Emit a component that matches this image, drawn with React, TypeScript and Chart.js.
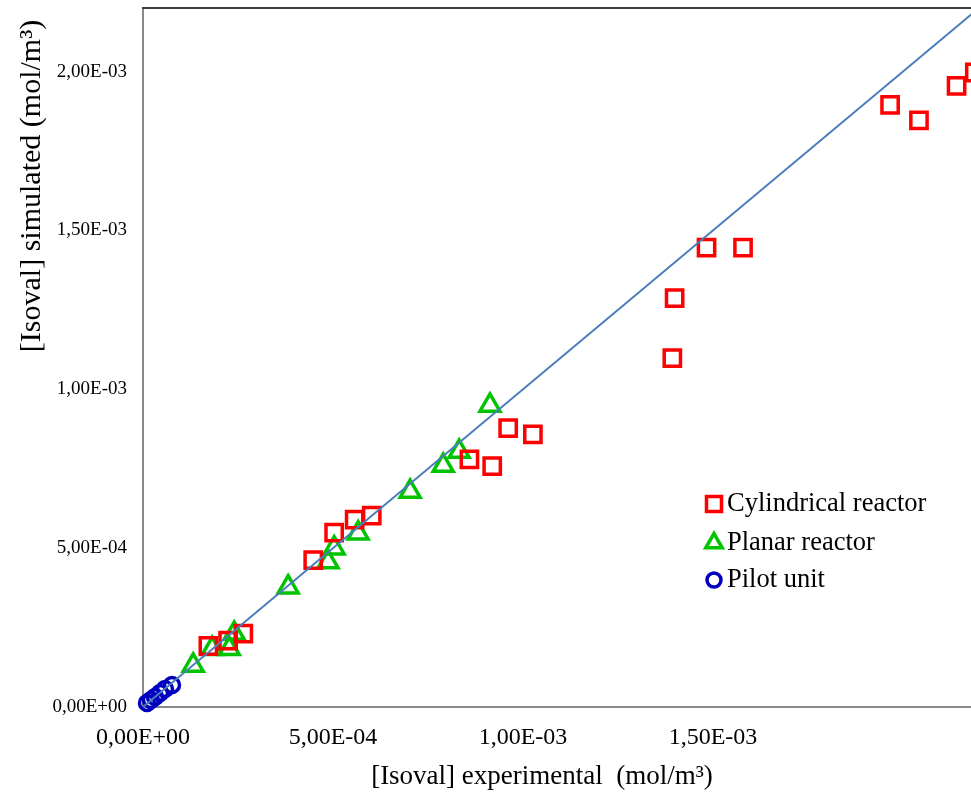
import React, { useEffect, useRef } from 'react';
import { Chart, registerables } from 'chart.js';

Chart.register(...registerables);

// Cylindrical reactor (experimental, simulated) in mol/m3
const cylindricalX = [1.72e-4, 2.24e-4, 2.64e-4, 4.48e-4, 5.03e-4, 5.57e-4, 6.02e-4, 8.59e-4, 9.19e-4, 9.61e-4, 10.26e-4, 13.93e-4, 13.99e-4, 14.83e-4, 15.79e-4, 19.66e-4, 20.42e-4, 21.41e-4, 21.89e-4];
const cylindricalY = [1.92e-4, 2.09e-4, 2.31e-4, 4.62e-4, 5.49e-4, 5.90e-4, 6.02e-4, 7.79e-4, 7.58e-4, 8.78e-4, 8.58e-4, 10.98e-4, 12.87e-4, 14.46e-4, 14.46e-4, 18.95e-4, 18.46e-4, 19.55e-4, 19.97e-4];

// Planar reactor
const planarX = [1.32e-4, 1.82e-4, 2.27e-4, 2.40e-4, 3.82e-4, 4.87e-4, 5.03e-4, 5.66e-4, 7.03e-4, 7.90e-4, 8.32e-4, 9.13e-4];
const planarY = [1.31e-4, 1.83e-4, 1.83e-4, 2.31e-4, 3.77e-4, 4.56e-4, 5.00e-4, 5.47e-4, 6.78e-4, 7.60e-4, 8.04e-4, 9.49e-4];

// Pilot unit
const pilotX = [0.105e-4, 0.21e-4, 0.316e-4, 0.447e-4, 0.579e-4, 0.763e-4];
const pilotY = [0.126e-4, 0.22e-4, 0.314e-4, 0.44e-4, 0.566e-4, 0.692e-4];

// y = x reference line
const identityLine = [0, 2.2e-3];

const seriesNames = ['Cylindrical reactor', 'Planar reactor', 'Pilot unit'];
const seriesColors = ['#FF0000', '#00C400', '#0000C0'];

const axisMin = 0;
const axisMax = 2.2e-3;
const tickStep = 5e-4;

const xTitle = '[Isoval] experimental  (mol/m\u00B3)';
const yTitle = '[Isoval] simulated (mol/m\u00B3)';

const FONT = '"Liberation Serif", "Times New Roman", serif';

function fmt(v: number): string {
  if (Math.abs(v) < 1e-12) return '0,00E+00';
  const [m, e] = v.toExponential(2).split('e');
  const n = parseInt(e, 10);
  const sign = n < 0 ? '-' : '+';
  return m.replace('.', ',') + 'E' + sign + String(Math.abs(n)).padStart(2, '0');
}

function zip(xs: number[], ys: number[]) {
  return xs.map((x, i) => ({ x, y: ys[i] }));
}

function filterTicks(scale: any) {
  scale.ticks = scale.ticks.filter((t: any) => {
    const r = t.value / tickStep;
    return Math.abs(r - Math.round(r)) < 1e-6;
  });
}

const decorPlugin = {
  id: 'decor',
  afterDraw(chart: any) {
    const { ctx, chartArea } = chart;
    ctx.save();
    // top frame line
    ctx.strokeStyle = '#404040';
    ctx.lineWidth = 2;
    ctx.beginPath();
    ctx.moveTo(chartArea.left - 1, chartArea.top);
    ctx.lineTo(chartArea.right + 1, chartArea.top);
    ctx.stroke();

    // axis titles
    ctx.fillStyle = '#000';
    ctx.textAlign = 'center';
    ctx.textBaseline = 'middle';
    ctx.font = '27px ' + FONT;
    ctx.fillText(xTitle, 542, 777);
    ctx.save();
    ctx.font = '30px ' + FONT;
    ctx.translate(32, 186);
    ctx.rotate(-Math.PI / 2);
    ctx.fillText(yTitle, 0, 0);
    ctx.restore();

    // legend
    const lx = 714;
    const rows = [504, 543, 580];
    ctx.lineWidth = 3.5;
    rows.forEach((ry, i) => {
      ctx.strokeStyle = seriesColors[i];
      ctx.beginPath();
      if (i === 0) {
        ctx.rect(lx - 7.5, ry - 7.5, 15, 15);
      } else if (i === 1) {
        const r = 9.5;
        ctx.moveTo(lx, ry - r);
        ctx.lineTo(lx + r * 0.866, ry + r * 0.5);
        ctx.lineTo(lx - r * 0.866, ry + r * 0.5);
        ctx.closePath();
      } else {
        ctx.arc(lx, ry, 7, 0, Math.PI * 2);
      }
      ctx.stroke();
      ctx.fillStyle = '#000';
      ctx.font = '26.5px ' + FONT;
      ctx.textAlign = 'left';
      ctx.textBaseline = 'alphabetic';
      ctx.fillText(seriesNames[i], 727, ry + 7);
    });
    ctx.restore();
  },
};

export default function App() {
  const ref = useRef<HTMLCanvasElement>(null);

  useEffect(() => {
    if (!ref.current) return;
    const chart = new Chart(ref.current, {
      type: 'scatter',
      data: {
        datasets: [
          {
            type: 'line',
            label: 'y = x',
            data: zip(identityLine, identityLine),
            borderColor: '#4A7EBB',
            borderWidth: 2,
            pointRadius: 0,
            fill: false,
            order: 0,
          } as any,
          {
            label: seriesNames[0],
            data: zip(cylindricalX, cylindricalY),
            pointStyle: 'rect',
            pointRadius: 11.5,
            borderColor: seriesColors[0],
            backgroundColor: 'transparent',
            borderWidth: 3.5,
            clip: false,
            order: 1,
          },
          {
            label: seriesNames[1],
            data: zip(planarX, planarY),
            pointStyle: 'triangle',
            pointRadius: 11.5,
            borderColor: seriesColors[1],
            backgroundColor: 'transparent',
            borderWidth: 3.5,
            clip: false,
            order: 2,
          },
          {
            label: seriesNames[2],
            data: zip(pilotX, pilotY),
            pointStyle: 'circle',
            pointRadius: 7.5,
            borderColor: seriesColors[2],
            backgroundColor: 'transparent',
            borderWidth: 3.5,
            clip: false,
            order: 3,
          },
        ],
      },
      options: {
        responsive: false,
        animation: false,
        events: [],
        layout: { autoPadding: false, padding: { left: 0, top: 8, right: 21, bottom: 0 } },
        plugins: {
          legend: { display: false },
          tooltip: { enabled: false },
        },
        scales: {
          x: {
            type: 'linear',
            min: axisMin,
            max: axisMax,
            afterBuildTicks: filterTicks,
            afterFit: (s: any) => { s.height = 89; s.paddingLeft = 0; s.paddingRight = 0; },
            grid: { display: false, drawTicks: false },
            border: { display: true, color: '#898989', width: 2 },
            ticks: {
              stepSize: tickStep,
              padding: 16,
              color: '#000',
              font: { family: FONT, size: 24 },
              callback: (v: any) => fmt(Number(v)),
              maxRotation: 0,
              autoSkip: false,
            },
          },
          y: {
            type: 'linear',
            min: axisMin,
            max: axisMax,
            afterBuildTicks: filterTicks,
            afterFit: (s: any) => { s.width = 143; s.paddingTop = 0; s.paddingBottom = 0; },
            grid: { display: false, drawTicks: false },
            border: { display: true, color: '#898989', width: 2 },
            ticks: {
              stepSize: tickStep,
              padding: 16,
              color: '#000',
              font: { family: FONT, size: 19 },
              callback: (v: any) => fmt(Number(v)),
              autoSkip: false,
            },
          },
        },
      },
      plugins: [decorPlugin],
    });
    return () => chart.destroy();
  }, []);

  return (
    <div style={{ position: 'fixed', left: 0, top: 0, width: 971, height: 796, overflow: 'hidden', background: '#fff' }}>
      <canvas ref={ref} width={1000} height={796} style={{ display: 'block' }} />
    </div>
  );
}
